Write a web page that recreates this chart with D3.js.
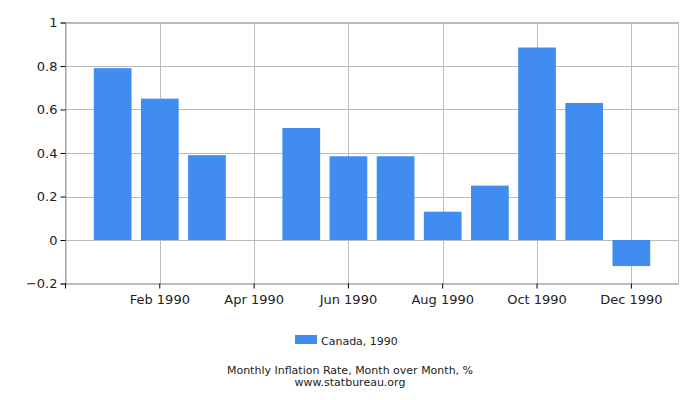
<!DOCTYPE html>
<html><head><meta charset="utf-8">
<script src="https://cdn.jsdelivr.net/npm/d3@7"></script>
<style>body{margin:0;background:#fff;} svg{display:block;font-family:"DejaVu Sans",sans-serif;}</style>
</head><body>
<svg id="c" width="700" height="400"></svg>
<script>
const months = ["Jan 1990","Feb 1990","Mar 1990","Apr 1990","May 1990","Jun 1990","Jul 1990","Aug 1990","Sep 1990","Oct 1990","Nov 1990","Dec 1990"];
const values = [0.79,0.65,0.39,0,0.515,0.385,0.385,0.13,0.25,0.885,0.63,-0.12];
const xTickLabels = ["Feb 1990","Apr 1990","Jun 1990","Aug 1990","Oct 1990","Dec 1990"];
const yTicks = [-0.2,0,0.2,0.4,0.6,0.8,1];
const seriesName = "Canada, 1990";
const title = "Monthly Inflation Rate, Month over Month, %";
const source = "www.statbureau.org";

const svg = d3.select("#c");
const L = 65.5, R = 678.5, T = 22.5, B = 283.5;
const x = d3.scaleBand().domain(months).range([L, R]).paddingInner(0.2).paddingOuter(0.6);
const y = d3.scaleLinear().domain([-0.2, 1]).range([B, T]);
const cx = m => x(m) + x.bandwidth() / 2;
const grid = "#bbbbbb", txt = "#222222", barColor = "#418cf0";

// horizontal grid
svg.append("g").selectAll("line").data(yTicks).join("line")
  .attr("x1", L).attr("x2", R).attr("y1", d => Math.round(y(d)) + 0.5).attr("y2", d => Math.round(y(d)) + 0.5)
  .attr("stroke", grid).attr("stroke-width", 1);
// vertical grid
svg.append("g").selectAll("line").data(xTickLabels).join("line")
  .attr("x1", d => Math.round(cx(d)) + 0.5).attr("x2", d => Math.round(cx(d)) + 0.5)
  .attr("y1", T).attr("y2", B).attr("stroke", grid).attr("stroke-width", 1);
// border
svg.append("rect").attr("x", L).attr("y", T).attr("width", R - L).attr("height", B - T)
  .attr("fill", "none").attr("stroke", grid).attr("stroke-width", 1);

// bars
svg.append("g").selectAll("rect").data(values).join("rect")
  .attr("x", (d, i) => x(months[i]))
  .attr("width", x.bandwidth())
  .attr("y", d => y(Math.max(0, d)))
  .attr("height", d => Math.abs(y(d) - y(0)))
  .attr("fill", barColor);

// y axis
const ya = svg.append("g").attr("transform", `translate(${L},0)`)
  .call(d3.axisLeft(y).tickValues(yTicks).tickSize(5).tickPadding(3).tickFormat(d => d3.format("")(+d.toFixed(1))));
ya.select(".domain").attr("stroke", "#999");
ya.selectAll(".tick line").attr("stroke", "#000");
ya.selectAll("text").attr("font-size", 13).attr("fill", txt).attr("font-family", "DejaVu Sans");

// x axis
const xa = svg.append("g").attr("transform", `translate(0,${B})`)
  .call(d3.axisBottom(x).tickValues(xTickLabels).tickSize(5).tickPadding(6));
xa.select(".domain").remove();
xa.selectAll(".tick line").attr("stroke", "#000");
xa.selectAll("text").attr("font-size", 13).attr("fill", txt).attr("font-family", "DejaVu Sans");
// left tick at plot start
svg.append("line").attr("x1", L).attr("x2", L).attr("y1", B).attr("y2", B + 5).attr("stroke", "#000");

// legend
svg.append("rect").attr("x", 295).attr("y", 335).attr("width", 22).attr("height", 9).attr("fill", barColor);
svg.append("text").attr("x", 321).attr("y", 345).attr("font-size", 11).attr("fill", txt).text(seriesName);

// titles
svg.append("text").attr("x", 350).attr("y", 374).attr("text-anchor", "middle").attr("font-size", 11).attr("fill", txt).text(title);
svg.append("text").attr("x", 350).attr("y", 386).attr("text-anchor", "middle").attr("font-size", 11).attr("fill", txt).text(source);
</script>
</body></html>
